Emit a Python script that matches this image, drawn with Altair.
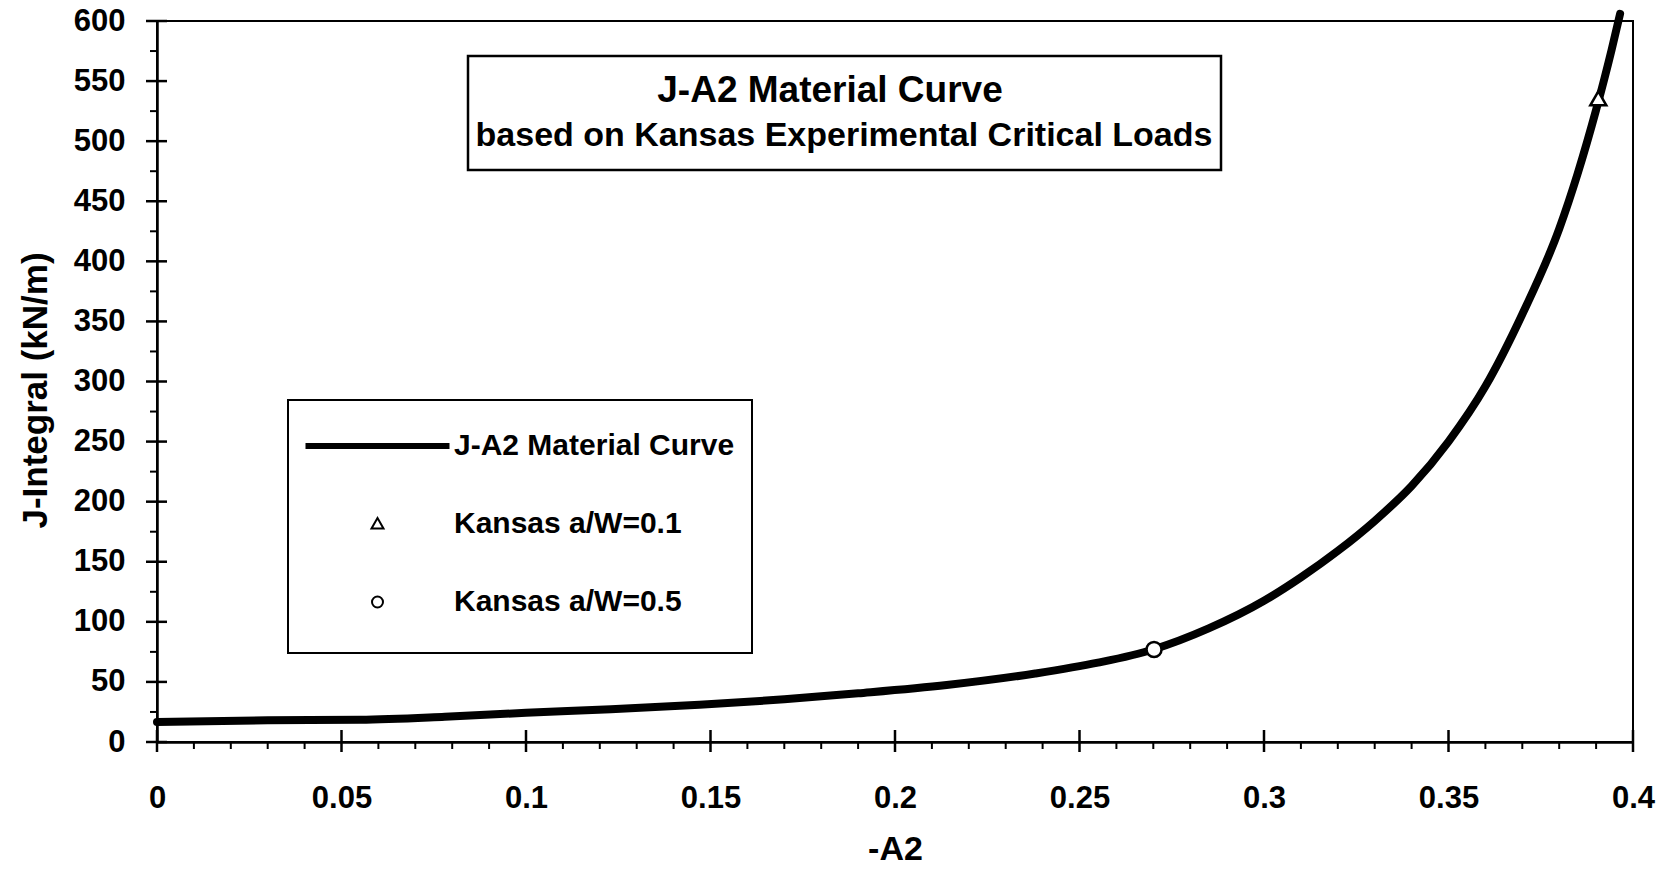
import altair as alt
import pandas as pd

# ---------------- data ----------------
curve_x = [0.0, 0.03, 0.055, 0.078, 0.1, 0.123, 0.147, 0.17, 0.19, 0.214, 0.238,
           0.255, 0.27, 0.285, 0.30, 0.31, 0.32, 0.33, 0.34, 0.35, 0.36, 0.37,
           0.38, 0.385, 0.39, 0.3942, 0.3965]
curve_y = [16.6, 18.0, 18.5, 21.0, 24.3, 27.3, 31.0, 35.5, 40.5, 47.4, 57.0,
           66.0, 77.0, 94.5, 117.5, 137.0, 159.0, 184.0, 213.0, 250.0, 296.0, 356.0,
           427.0, 473.0, 526.0, 576.0, 606.0]

kansas01_x = [0.3906]
kansas01_y = [535.6]
kansas05_x = [0.2702]
kansas05_y = [77.0]

series_names = ["J-A2 Material Curve", "Kansas a/W=0.1", "Kansas a/W=0.5"]

x_ticks_major = [0, 0.05, 0.1, 0.15, 0.2, 0.25, 0.3, 0.35, 0.4]
x_ticks_minor = [0.01, 0.02, 0.03, 0.04, 0.06, 0.07, 0.08, 0.09, 0.11, 0.12, 0.13,
                 0.14, 0.16, 0.17, 0.18, 0.19, 0.21, 0.22, 0.23, 0.24, 0.26, 0.27,
                 0.28, 0.29, 0.31, 0.32, 0.33, 0.34, 0.36, 0.37, 0.38, 0.39]
y_ticks_major = [0, 50, 100, 150, 200, 250, 300, 350, 400, 450, 500, 550, 600]
y_ticks_minor = [25, 75, 125, 175, 225, 275, 325, 375, 425, 475, 525, 575]

title_lines = ["J-A2 Material Curve", "based on Kansas Experimental Critical Loads"]
x_title = "-A2"
y_title = "J-Integral (kN/m)"

# ---------------- layout ----------------
W, H = 1476, 721
FONT = "Liberation Sans"

curve_df = pd.DataFrame({"x": curve_x, "y": curve_y})
k01_df = pd.DataFrame({"x": kansas01_x, "y": kansas01_y})
k05_df = pd.DataFrame({"x": kansas05_x, "y": kansas05_y})
legend_df = pd.DataFrame({"x": kansas01_x + kansas05_x,
                          "y": kansas01_y + kansas05_y,
                          "series": series_names[1:]})

xs = alt.Scale(domain=[0, 0.4], nice=False, zero=False)
ys = alt.Scale(domain=[0, 600], nice=False, zero=False)

x_axis = alt.Axis(values=x_ticks_major, format="~g", title=x_title, labelPadding=41,
                  titlePadding=19, titleFontSize=34, labelFlush=False, labelOverlap=False)
y_axis = alt.Axis(values=y_ticks_major, title=y_title, labelPadding=32, titlePadding=20,
                  titleFontSize=35, titleY=369, labelOverlap=False)


def X(field):
    return alt.X(field, scale=xs, axis=x_axis)


def Y(field):
    return alt.Y(field, scale=ys, axis=y_axis)


line = alt.Chart(curve_df).mark_line(
    color="black", strokeWidth=8, clip=False, interpolate="monotone", strokeCap="round"
).encode(x=X("x:Q"), y=Y("y:Q"))

tri = alt.Chart(k01_df).mark_point(
    shape="triangle-up", size=256, filled=True, fill="white", stroke="black",
    strokeWidth=2.5, opacity=1
).encode(x=X("x:Q"), y=Y("y:Q"))

circ = alt.Chart(k05_df).mark_point(
    shape="circle", size=225, filled=True, fill="white", stroke="black",
    strokeWidth=2.5, opacity=1
).encode(x=X("x:Q"), y=Y("y:Q"))

# legend (symbols drawn by the legend only)
legend_paths = [
    "M0,-3M0,3M-7.1,-0.2H7.1V0.2H-7.1Z",
    "M0,-3M0,3M0,-0.6L0.6,0.45L-0.6,0.45Z",
    "M0,-3M0,3M-0.55,0A0.55,0.55,0,1,0,0.55,0A0.55,0.55,0,1,0,-0.55,0Z",
]
leg_def = alt.Legend(
    title=" ", titleFontSize=1, titlePadding=13,
    orient="none", legendX=131, legendY=379, padding=17,
    rowPadding=10, symbolOffset=57.5, labelOffset=61.5, labelFontSize=30, labelFont=FONT,
    labelFontWeight="bold", labelColor="black", labelLimit=600,
    strokeColor="black", fillColor="white", symbolStrokeColor="black",
    symbolStrokeWidth=2, symbolSize=400, symbolOpacity=1,
)
leg = alt.Chart(legend_df).transform_filter("datum.x < 0").mark_point(
    filled=True, size=400, stroke="black", strokeWidth=2, opacity=1
).encode(
    x=X("x:Q"),
    y=Y("y:Q"),
    shape=alt.Shape("series:N", scale=alt.Scale(domain=series_names, range=legend_paths),
                    legend=leg_def),
    fill=alt.Fill("series:N", scale=alt.Scale(domain=series_names,
                                              range=["black", "white", "white"]),
                  legend=leg_def),
    stroke=alt.Stroke("series:N", scale=alt.Scale(domain=series_names,
                                                  range=["black", "black", "black"]),
                      legend=leg_def),
)

# ticks (major cross the axis, minor outside)
xmaj = alt.Chart(pd.DataFrame({"t": x_ticks_major})).mark_rule(
    color="black", strokeWidth=2.5).encode(
    x=X("t:Q"), y=alt.value(H - 12), y2=alt.value(H + 10))
xmin = alt.Chart(pd.DataFrame({"t": x_ticks_minor})).mark_rule(
    color="black", strokeWidth=2).encode(
    x=X("t:Q"), y=alt.value(H), y2=alt.value(H + 7))
ymaj = alt.Chart(pd.DataFrame({"t": y_ticks_major})).mark_rule(
    color="black", strokeWidth=2.5).encode(
    y=Y("t:Q"), x=alt.value(-11), x2=alt.value(10))
ymin = alt.Chart(pd.DataFrame({"t": y_ticks_minor})).mark_rule(
    color="black", strokeWidth=2).encode(
    y=Y("t:Q"), x=alt.value(-7), x2=alt.value(0))

# title box
box = alt.Chart(pd.DataFrame({"t": [0]})).mark_rect(
    fill="white", stroke="black", strokeWidth=2.5).encode(
    x=alt.value(311), x2=alt.value(1064), y=alt.value(35), y2=alt.value(149))
ttl1 = alt.Chart(pd.DataFrame({"t": [title_lines[0]]})).mark_text(
    font=FONT, fontSize=37, fontWeight="bold", align="center",
    baseline="middle", color="black").encode(
    text="t:N", x=alt.value(673), y=alt.value(70))
ttl2 = alt.Chart(pd.DataFrame({"t": [title_lines[1]]})).mark_text(
    font=FONT, fontSize=34, fontWeight="bold", align="center",
    baseline="middle", color="black").encode(
    text="t:N", x=alt.value(687), y=alt.value(115))

chart = alt.layer(line, xmin, xmaj, ymin, ymaj, tri, circ, leg, box, ttl1, ttl2).properties(
    width=W, height=H,
    autosize=alt.AutoSizeParams(type="none"),
    padding={"left": 157, "top": 21, "right": 32, "bottom": 129},
).configure_view(
    stroke="black", strokeWidth=2
).configure_axis(
    labelFont=FONT, labelFontWeight="bold", labelFontSize=31, labelColor="black",
    titleFont=FONT, titleFontWeight="bold", titleColor="black",
    domainColor="black", domainWidth=2.5, ticks=False, grid=False,
).configure_legend(
    strokeWidth=2
)

chart.save("out.html", embed_options={"renderer": "svg", "actions": False})
